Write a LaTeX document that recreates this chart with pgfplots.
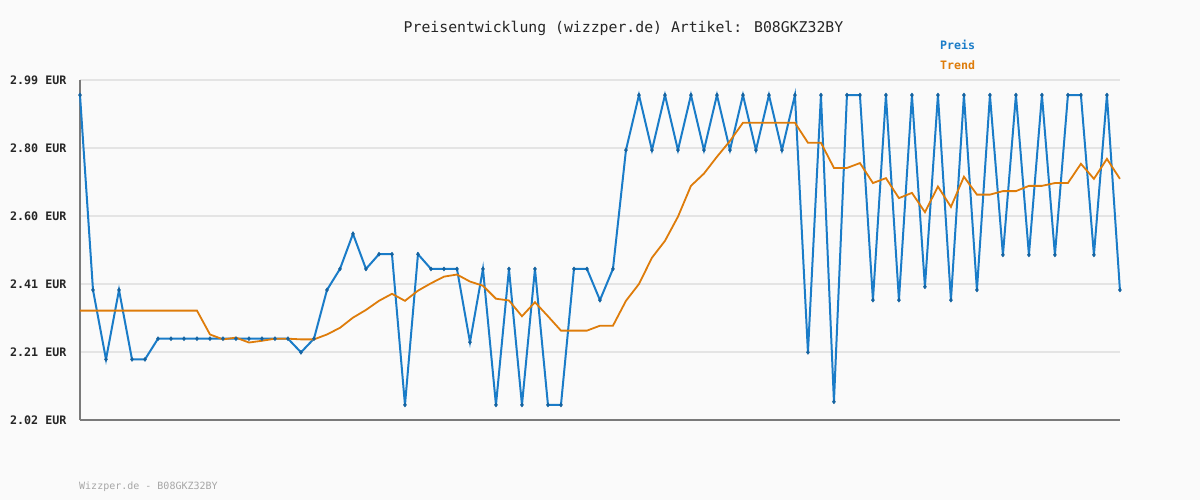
\documentclass[border=0pt]{standalone}
\usepackage{pgfplots}
\pgfplotsset{compat=1.18}
\usepackage{fontspec}
\setmainfont{DejaVu Sans Mono}
\definecolor{bgc}{HTML}{FAFAFA}
\definecolor{preisc}{HTML}{1A7CC8}
\definecolor{trendc}{HTML}{DE7C0A}
\definecolor{gridc}{HTML}{E4E4E4}
\definecolor{axc}{HTML}{7A7A7A}

% Preis: index, EUR
\pgfplotstableread{
i v
0 2.947
1 2.391
2 2.193
3 2.391
4 2.193
5 2.193
6 2.252
7 2.252
8 2.252
9 2.252
10 2.252
11 2.252
12 2.252
13 2.252
14 2.252
15 2.252
16 2.252
17 2.213
18 2.252
19 2.391
20 2.451
21 2.551
22 2.451
23 2.493
24 2.493
25 2.063
26 2.493
27 2.451
28 2.451
29 2.451
30 2.242
31 2.451
32 2.063
33 2.451
34 2.063
35 2.451
36 2.063
37 2.063
38 2.451
39 2.451
40 2.362
41 2.451
42 2.790
43 2.947
44 2.790
45 2.947
46 2.790
47 2.947
48 2.790
49 2.947
50 2.790
51 2.947
52 2.790
53 2.947
54 2.790
55 2.947
56 2.213
57 2.947
58 2.072
59 2.947
60 2.947
61 2.362
62 2.947
63 2.362
64 2.947
65 2.400
66 2.947
67 2.362
68 2.947
69 2.391
70 2.947
71 2.491
72 2.947
73 2.491
74 2.947
75 2.491
76 2.947
77 2.947
78 2.491
79 2.947
80 2.391
}\preis

% Trend
\pgfplotstableread{
i v
0 2.332
1 2.332
2 2.332
3 2.332
4 2.332
5 2.332
6 2.332
7 2.332
8 2.332
9 2.332
10 2.264
11 2.250
12 2.255
13 2.241
14 2.246
15 2.252
16 2.252
17 2.250
18 2.250
19 2.264
20 2.283
21 2.312
22 2.334
23 2.360
24 2.380
25 2.360
26 2.389
27 2.410
28 2.429
29 2.435
30 2.415
31 2.403
32 2.366
33 2.361
34 2.316
35 2.356
36 2.316
37 2.275
38 2.275
39 2.275
40 2.289
41 2.289
42 2.360
43 2.408
44 2.483
45 2.531
46 2.600
47 2.688
48 2.723
49 2.771
50 2.816
51 2.868
52 2.868
53 2.868
54 2.868
55 2.868
56 2.811
57 2.811
58 2.739
59 2.739
60 2.753
61 2.696
62 2.710
63 2.653
64 2.668
65 2.613
66 2.686
67 2.628
68 2.714
69 2.663
70 2.663
71 2.673
72 2.673
73 2.688
74 2.688
75 2.696
76 2.696
77 2.751
78 2.708
79 2.765
80 2.708
}\trend

\begin{document}
\begin{tikzpicture}[x=1pt,y=1pt]
\fill[bgc] (0,0) rectangle (1200,500);
\begin{axis}[
    at={(80pt,80pt)}, anchor=south west,
    width=1040pt, height=340pt, scale only axis,
    xmin=0, xmax=80, ymin=2.02, ymax=2.99,
    axis x line*=bottom, axis y line*=left,
    axis line style={axc, line width=2.5pt},
    x axis line style={-}, y axis line style={-},
    xtick=\empty,
    ytick={2.02,2.214,2.408,2.602,2.796,2.99},
    yticklabels={2.02 EUR,2.21 EUR,2.41 EUR,2.60 EUR,2.80 EUR,2.99 EUR},
    yticklabel style={font=\fontsize{11.7}{12}\selectfont\bfseries, text=black!85, xshift=-10pt},
    major tick length=0pt,
    ymajorgrids, grid style={gridc, line width=2pt},
    axis background/.style={fill=bgc},
    clip=false,
    legend style={at={(0.825,1.02)}, anchor=south west, draw=none, fill=none,
        font=\fontsize{11.6}{12}\selectfont\bfseries, row sep=6pt, inner sep=0pt},
    legend cell align=left,
    legend image code/.code={},
]
\addplot[preisc, line width=2pt, mark=diamond*, mark size=2pt,
    mark options={fill=preisc!80!black, draw=preisc!80!black, line width=0.5pt}]
    table[x=i, y=v] {\preis};
\addlegendentry{\textcolor{preisc}{Preis}}
\addplot[trendc, line width=1.8pt, mark=none] table[x=i, y=v] {\trend};
\addlegendentry{\textcolor{trendc}{Trend}}
\end{axis}
\node[font=\fontsize{14.8}{16}\selectfont, text=black!85] at (623.5,472) {Preisentwicklung (wizzper.de) Artikel: B08GKZ32BY};
\node[font=\fontsize{10}{12}\selectfont, text=black!35, anchor=west, inner sep=0pt] at (79,13) {Wizzper.de - B08GKZ32BY};
\end{tikzpicture}
\end{document}
